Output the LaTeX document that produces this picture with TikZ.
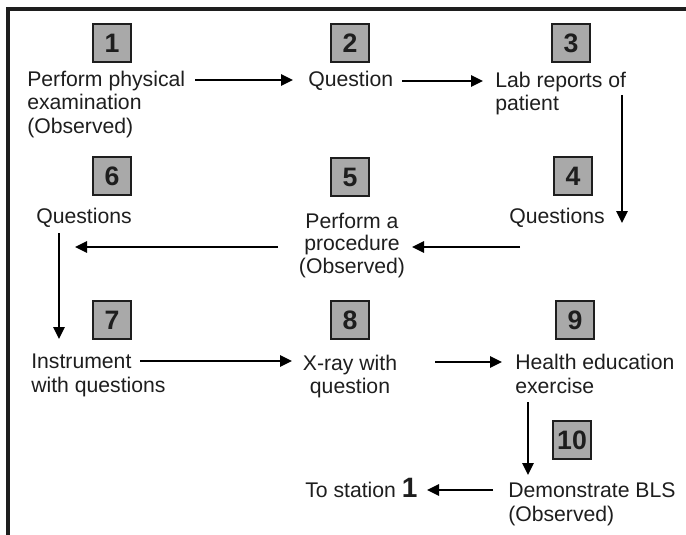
\documentclass[tikz,border=0pt]{standalone}
\usepackage{fontspec}
\setmainfont{Liberation Sans}
\usetikzlibrary{arrows.meta}
\definecolor{ink}{HTML}{1E1E1E}
\definecolor{boxfill}{HTML}{A9A9A9}
\begin{document}
\begin{tikzpicture}[x=0.75pt,y=-0.75pt,
  numbox/.style={draw=ink,line width=1.5pt,fill=boxfill,minimum size=28.5pt,inner sep=0pt,
    font=\fontsize{20}{20}\selectfont\bfseries,text=ink},
  lbl/.style={inner sep=0pt,font=\fontsize{15.9}{17.6}\selectfont,text=ink,align=left,anchor=base west},
  lblc/.style={inner sep=0pt,font=\fontsize{15.9}{16.6}\selectfont,text=ink,align=center,anchor=base},
  arr/.style={draw=black,line width=1.5pt,-{Triangle[length=9pt,width=8.5pt]}}]
\useasboundingbox (0,0) rectangle (686,535);
\fill[white] (0,0) rectangle (686,535);
% frame
\draw[ink,line width=2.4pt] (686,9) -- (8,9) -- (8,535);
% number boxes
\node[numbox] (b1) at (112,43) {1};
\node[numbox] (b2) at (350,43) {2};
\node[numbox] (b3) at (571,43) {3};
\node[numbox] (b4) at (573,176) {4};
\node[numbox] (b5) at (350,177) {5};
\node[numbox] (b6) at (112,176) {6};
\node[numbox] (b7) at (112,320) {7};
\node[numbox] (b8) at (350,320) {8};
\node[numbox] (b9) at (575,320) {9};
\node[numbox] (b10) at (572,440) {10};
% texts (anchor = baseline of the last line)
\node[lbl] (t1) at (27,133) {Perform physical\\examination\\(Observed)};
\node[lbl] (t2) at (308,87) {Question};
\node[lbl] (t3) at (495,110.5) {Lab reports of\\patient};
\node[lbl] (t4) at (509,223) {Questions};
\node[lblc] (t5) at (352,273) {Perform a\\procedure\\(Observed)};
\node[lbl] (t6) at (36,223) {Questions};
\node[lbl] (t7) at (31,392) {Instrument\\with questions};
\node[lblc] (t8) at (350,393) {X-ray with\\question};
\node[lbl] (t9) at (515,393) {Health education\\exercise};
\node[lbl] (t10) at (508,521) {Demonstrate BLS\\(Observed)};
\node[lbl] (t11) at (305,497) {To station {\fontsize{21}{21}\selectfont\bfseries 1}};
% arrow end points
\coordinate (a1s) at (195,80);  \coordinate (a1e) at (293,80);
\coordinate (a2s) at (402,81);  \coordinate (a2e) at (483,81);
\coordinate (a3s) at (622,95);  \coordinate (a3e) at (622,223);
\coordinate (a4s) at (520,247); \coordinate (a4e) at (412,247);
\coordinate (a5s) at (278,247); \coordinate (a5e) at (75,247);
\coordinate (a6s) at (59,233);  \coordinate (a6e) at (59,339);
\coordinate (a7s) at (140,361); \coordinate (a7e) at (292,361);
\coordinate (a8s) at (435,362); \coordinate (a8e) at (502,362);
\coordinate (a9s) at (528,402); \coordinate (a9e) at (528,475);
\coordinate (a10s) at (493,490); \coordinate (a10e) at (427,490);
\draw[arr] (a1s) -- (a1e);
\draw[arr] (a2s) -- (a2e);
\draw[arr] (a3s) -- (a3e);
\draw[arr] (a4s) -- (a4e);
\draw[arr] (a5s) -- (a5e);
\draw[arr] (a6s) -- (a6e);
\draw[arr] (a7s) -- (a7e);
\draw[arr] (a8s) -- (a8e);
\draw[arr] (a9s) -- (a9e);
\draw[arr] (a10s) -- (a10e);
\end{tikzpicture}
\end{document}
